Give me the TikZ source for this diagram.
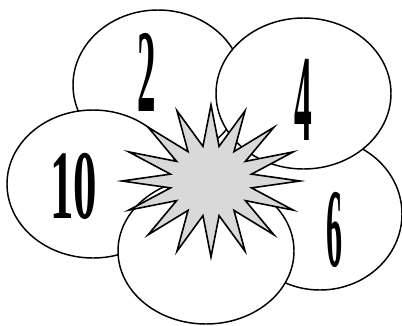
\documentclass[tikz,border=0pt]{standalone}
\usepackage{fontspec}
\setmainfont{Liberation Serif}
\usepackage{xcolor}
\usetikzlibrary{shapes.geometric,positioning}
\definecolor{SF}{HTML}{D9D9D9}

\begin{document}
\begin{tikzpicture}[x=0.75pt, y=-0.75pt,
    petal/.style={ellipse, draw=black, fill=white, line width=1.1pt, inner sep=0pt},
    num/.style={inner sep=0pt, font=\bfseries\fontsize{#1}{#1}\selectfont}]
    \useasboundingbox (0,0) rectangle (402,325);
    % petals, back to front
    \node[petal, minimum width=127.5pt, minimum height=112.5pt] (p2)  at (158,85)  {};
    \node[petal, minimum width=123pt,   minimum height=114pt]   (p6)  at (320,214) {};
    \node[petal, minimum width=131.25pt,minimum height=113.25pt](p4)  at (303.5,93.5) {};
    \node[petal, minimum width=129pt,   minimum height=111pt]   (p10) at (93,184)  {};
    \node[petal, minimum width=132pt,   minimum height=109.5pt] (p0)  at (206,251) {};
    % burst
    \node[star, star points=16, star point ratio=2.15, minimum size=114pt,
          inner sep=0pt, xscale=1.17, draw=black, fill=SF, line width=1.2pt] (burst) at (211,181) {};
    % numbers
    \node[num=88.5, xscale=0.313] (n2)  at (146.5,72)  {2};
    \node[num=92.5, xscale=0.287] (n4)  at (303,99.5)  {4};
    \node[num=73.6, xscale=0.478] (n10) at (73.5,186)  {10};
    \node[num=84, xscale=0.287]   (n6)  at (335,230)   {6};
\end{tikzpicture}
\end{document}
